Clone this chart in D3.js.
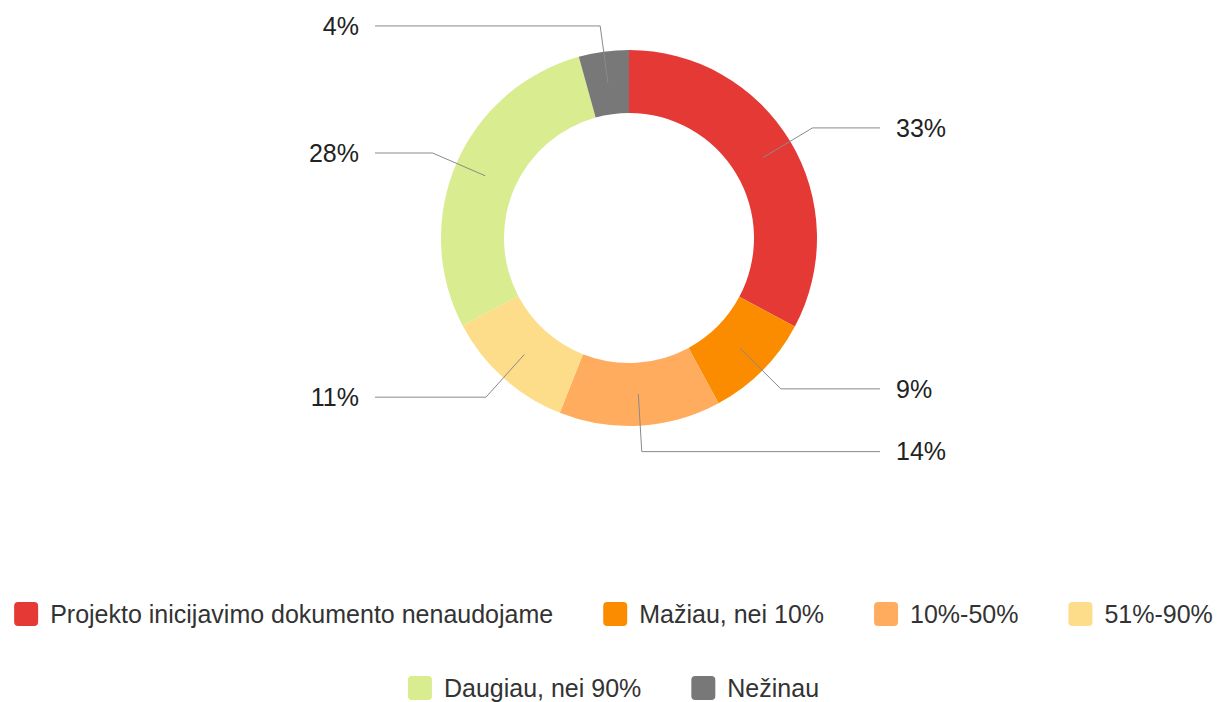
<!DOCTYPE html>
<html>
<head>
<meta charset="utf-8">
<script src="https://cdn.jsdelivr.net/npm/d3@7"></script>
<style>
  body { margin: 0; background: #fff; }
  svg { display: block; }
</style>
</head>
<body>
<div id="chart"></div>
<script>
// categories and shares (percent)
const categories = [
  "Projekto inicijavimo dokumento nenaudojame",
  "Mažiau, nei 10%",
  "10%-50%",
  "51%-90%",
  "Daugiau, nei 90%",
  "Nežinau",
];
const shares = [32.8, 9.3, 13.9, 11.3, 28.4, 4.3];
const colors = ["#e53935", "#fb8c00", "#ffac5f", "#fddc8a", "#d9ec8f", "#787878"];

const width = 1227,
  height = 702,
  cx = 629,
  cy = 238,
  outerR = 188,
  innerR = 125,
  elbowR = 214,
  lineRightX = 880,
  lineLeftX = 375,
  labelGap = 16,
  fontFamily = "'Liberation Sans', Arial, sans-serif",
  fontSize = 25;

const data = categories.map((c, i) => ({ name: c, value: shares[i], color: colors[i] }));

const svg = d3
  .select("#chart")
  .append("svg")
  .attr("width", width)
  .attr("height", height)
  .attr("viewBox", [0, 0, width, height]);

const pie = d3.pie().sort(null).value((d) => d.value);
const arcs = pie(data);
const arc = d3.arc().innerRadius(innerR).outerRadius(outerR);
const midArc = d3.arc().innerRadius((innerR + outerR) / 2).outerRadius((innerR + outerR) / 2);
const elbowArc = d3.arc().innerRadius(elbowR).outerRadius(elbowR);

const g = svg.append("g").attr("transform", `translate(${cx},${cy})`);

// slices
g.selectAll("path.slice")
  .data(arcs)
  .join("path")
  .attr("class", "slice")
  .attr("d", arc)
  .attr("fill", (d) => d.data.color);

// leader lines
const total = d3.sum(shares);
const isRight = (d) => (d.startAngle + d.endAngle) / 2 < Math.PI;

g.selectAll("polyline")
  .data(arcs)
  .join("polyline")
  .attr("fill", "none")
  .attr("stroke", "#8a8a8a")
  .attr("stroke-width", 1)
  .attr("points", (d) => {
    const a = midArc.centroid(d);
    const b = elbowArc.centroid(d);
    const endX = isRight(d) ? lineRightX - cx : lineLeftX - cx;
    return [a, b, [endX, b[1]]].map((p) => p.join(",")).join(" ");
  });

// labels
g.selectAll("text.pct")
  .data(arcs)
  .join("text")
  .attr("class", "pct")
  .attr("x", (d) => (isRight(d) ? lineRightX - cx + labelGap : lineLeftX - cx - labelGap))
  .attr("y", (d) => elbowArc.centroid(d)[1])
  .attr("dy", "0.35em")
  .attr("text-anchor", (d) => (isRight(d) ? "start" : "end"))
  .attr("font-family", fontFamily)
  .attr("font-size", fontSize)
  .attr("fill", "#222")
  .text((d) => Math.round((d.data.value / total) * 100) + "%");

// legend
const sw = 24,
  swGap = 12,
  itemGap = 50,
  rowY = [614, 688],
  maxRow = width - 10;

const legend = svg.append("g");
const items = legend
  .selectAll("g")
  .data(data)
  .join("g");

items
  .append("rect")
  .attr("width", sw)
  .attr("height", sw)
  .attr("rx", 4)
  .attr("y", -sw / 2)
  .attr("fill", (d) => d.color);

items
  .append("text")
  .attr("x", sw + swGap)
  .attr("dy", "0.35em")
  .attr("font-family", fontFamily)
  .attr("font-size", fontSize)
  .attr("fill", "#333")
  .text((d) => d.name);

// wrap into rows and center each row
const widths = [];
items.each(function () {
  widths.push(sw + swGap + d3.select(this).select("text").node().getComputedTextLength());
});
const rows = [[]];
let rowW = 0;
widths.forEach((w, i) => {
  const add = rows[rows.length - 1].length ? itemGap + w : w;
  if (rowW + add > maxRow && rows[rows.length - 1].length) {
    rows.push([i]);
    rowW = w;
  } else {
    rows[rows.length - 1].push(i);
    rowW += add;
  }
});
rows.forEach((row, r) => {
  const tot = d3.sum(row, (i) => widths[i]) + itemGap * (row.length - 1);
  let x = width / 2 - tot / 2;
  row.forEach((i) => {
    d3.select(items.nodes()[i]).attr("transform", `translate(${x},${rowY[r]})`);
    x += widths[i] + itemGap;
  });
});
</script>
</body>
</html>
